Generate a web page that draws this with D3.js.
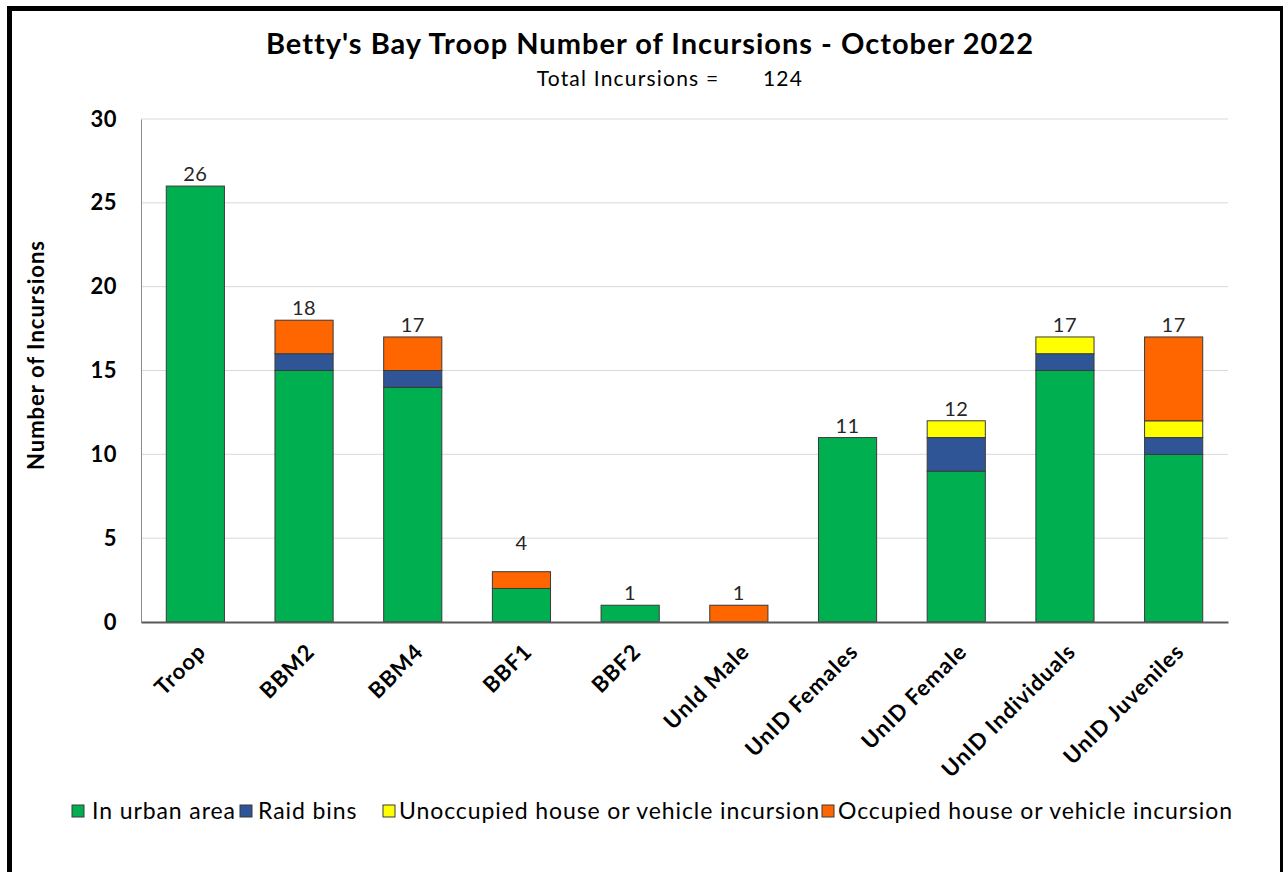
<!DOCTYPE html>
<html>
<head>
<meta charset="utf-8">
<script src="https://cdn.jsdelivr.net/npm/d3@7"></script>
<style>
  html, body { margin: 0; padding: 0; background: #fff; }
  svg { display: block; font-family: Lato, "Open Sans", sans-serif; }
</style>
</head>
<body>
<svg id="chart" width="1283" height="872"></svg>
<script>
const categories = ["Troop", "BBM2", "BBM4", "BBF1", "BBF2", "UnId Male", "UnID Females", "UnID Female", "UnID Individuals", "UnID Juveniles"];
const seriesNames = ["In urban area", "Raid bins", "Unoccupied house or vehicle incursion", "Occupied house or vehicle incursion"];
const urbanArea = [26, 15, 14, 2, 1, 0, 11, 9, 15, 10];
const raidBins = [0, 1, 1, 0, 0, 0, 0, 2, 1, 1];
const unoccupied = [0, 0, 0, 0, 0, 0, 0, 1, 1, 1];
const occupied = [0, 2, 2, 1, 0, 1, 0, 0, 0, 5];
const totalLabels = [26, 18, 17, 4, 1, 1, 11, 12, 17, 17];
const yTicks = [0, 5, 10, 15, 20, 25, 30];
const colors = ["#00B050", "#2F5597", "#FFFF00", "#FF6600"];
const titleText = "Betty's Bay Troop Number of Incursions - October 2022";
const subtitleLabel = "Total Incursions =";
const subtitleValue = "124";
const yAxisTitle = "Number of Incursions";

(function () {
const svg = d3.select("#chart");
const W = 1283, H = 872;
svg.append("rect").attr("width", W).attr("height", H).attr("fill", "#fff");

// frame
svg.append("rect").attr("x", 7).attr("y", 6).attr("width", W - 7).attr("height", 5).attr("fill", "#000");
svg.append("rect").attr("x", 7).attr("y", 6).attr("width", 5).attr("height", H - 6).attr("fill", "#000");
svg.append("rect").attr("x", 1280).attr("y", 6).attr("width", 3).attr("height", H - 6).attr("fill", "#000");

const pLeft = 141, pRight = 1228, pTop = 119, pBottom = 622;

const x = d3.scaleBand().domain(categories).range([pLeft, pRight]).paddingInner(0.465).paddingOuter(0.2325);
const y = d3.scaleLinear().domain([0, 30]).range([pBottom, pTop]);

// gridlines
svg.append("g").selectAll("line").data(yTicks.filter(t => t > 0)).join("line")
  .attr("x1", pLeft).attr("x2", pRight)
  .attr("y1", d => y(d)).attr("y2", d => y(d))
  .attr("stroke", "#d9d9d9").attr("stroke-width", 1);

// stacked data
const rows = categories.map((c, i) => ({
  cat: c,
  s0: urbanArea[i], s1: raidBins[i], s2: unoccupied[i], s3: occupied[i]
}));
const stacked = d3.stack().keys(["s0", "s1", "s2", "s3"])(rows);

svg.append("g").selectAll("g").data(stacked).join("g")
  .attr("fill", (d, i) => colors[i])
  .selectAll("rect").data(d => d.filter(p => p[1] - p[0] > 0)).join("rect")
  .attr("x", d => x(d.data.cat))
  .attr("width", x.bandwidth())
  .attr("y", d => y(d[1]))
  .attr("height", d => y(d[0]) - y(d[1]))
  .attr("stroke", "#3a3a3a").attr("stroke-width", 1);

// axes
const yAxis = d3.axisLeft(y).tickValues(yTicks).tickSize(0).tickPadding(24);
const gy = svg.append("g").attr("transform", `translate(${pLeft},0)`).call(yAxis);
gy.select(".domain").attr("stroke", "#8c8c8c").attr("stroke-width", 1);
gy.selectAll("text").attr("font-size", 22).attr("font-weight", "bold").attr("fill", "#000")
  .attr("font-family", "Lato, sans-serif").attr("letter-spacing", 0.5);

const xAxis = d3.axisBottom(x).tickSize(0).tickPadding(0);
const gx = svg.append("g").attr("transform", `translate(0,${pBottom})`).call(xAxis);
gx.select(".domain").attr("stroke", "#595959").attr("stroke-width", 2);
gx.selectAll("text")
  .attr("font-size", 22).attr("font-weight", "bold").attr("fill", "#000")
  .attr("font-family", "Lato, sans-serif")
  .attr("letter-spacing", 1)
  .attr("text-anchor", "end")
  .attr("dy", 0)
  .attr("transform", "translate(12,31) rotate(-45)");

// total labels
svg.append("g").selectAll("text").data(categories).join("text")
  .attr("x", d => x(d) + x.bandwidth() / 2)
  .attr("y", (d, i) => y(totalLabels[i]) - 5)
  .attr("text-anchor", "middle")
  .attr("font-size", 20).attr("fill", "#262626").attr("letter-spacing", 0.5)
  .text((d, i) => totalLabels[i]);

// titles
svg.append("text").attr("x", 650).attr("y", 54).attr("text-anchor", "middle")
  .attr("font-size", 29).attr("font-weight", "bold").attr("fill", "#000")
  .attr("letter-spacing", 1).text(titleText);
svg.append("text").attr("x", 628).attr("y", 86).attr("text-anchor", "middle")
  .attr("font-size", 21).attr("fill", "#000").attr("letter-spacing", 1.2).text(subtitleLabel);
svg.append("text").attr("x", 783).attr("y", 86).attr("text-anchor", "middle")
  .attr("font-size", 21).attr("fill", "#000").attr("letter-spacing", 1.2).text(subtitleValue);

svg.append("text")
  .attr("transform", `translate(44,355) rotate(-90)`)
  .attr("text-anchor", "middle")
  .attr("font-size", 22).attr("font-weight", "bold").attr("fill", "#000")
  .attr("letter-spacing", 1).text(yAxisTitle);

// legend
const legendX = [72, 240, 383, 822];
const lg = svg.append("g").selectAll("g").data(seriesNames).join("g")
  .attr("transform", (d, i) => `translate(${legendX[i]},811)`);
lg.append("rect").attr("x", 0).attr("y", -6).attr("width", 12).attr("height", 12)
  .attr("fill", (d, i) => colors[i]).attr("stroke", "#3a3a3a").attr("stroke-width", 1);
lg.append("text").attr("x", (d, i) => [20, 18, 16, 16][i]).attr("y", 8)
  .attr("font-size", 23).attr("fill", "#000").attr("letter-spacing", 0.9).text(d => d);
})();
</script>
</body>
</html>
